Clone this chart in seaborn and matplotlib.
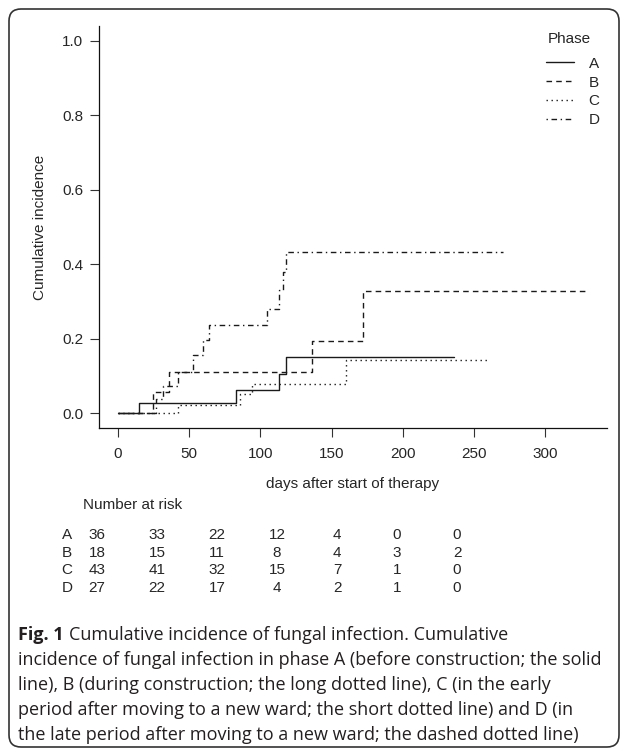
import matplotlib
matplotlib.use("Agg")
import matplotlib.pyplot as plt
from matplotlib.patches import FancyBboxPatch
from matplotlib.lines import Line2D
import seaborn as sns
import pandas as pd

# ---------------- data ----------------
phases = ["A", "B", "C", "D"]

days_A = [0, 15, 83, 113, 118, 236]
inc_A = [0.0, 0.028, 0.062, 0.104, 0.151, 0.151]

days_B = [0, 25, 36, 136, 172, 330]
inc_B = [0.0, 0.056, 0.111, 0.194, 0.329, 0.329]

days_C = [0, 42, 86, 94, 160, 259]
inc_C = [0.0, 0.023, 0.051, 0.078, 0.143, 0.143]

days_D = [0, 27, 32, 42, 53, 60, 64, 105, 113, 116, 118, 270]
inc_D = [0.0, 0.037, 0.074, 0.111, 0.156, 0.196, 0.237, 0.281, 0.331, 0.378, 0.432, 0.432]

risk_times = [0, 50, 100, 150, 200, 250, 300]
risk_A = [36, 33, 22, 12, 4, 0, 0]
risk_B = [18, 15, 11, 8, 4, 3, 2]
risk_C = [43, 41, 32, 15, 7, 1, 0]
risk_D = [27, 22, 17, 4, 2, 1, 0]

x_ticks = [0, 50, 100, 150, 200, 250, 300]
y_ticks = [0.0, 0.2, 0.4, 0.6, 0.8, 1.0]

caption_bold = "Fig. 1"
caption_lines = [
    "Cumulative incidence of fungal infection. Cumulative",
    "incidence of fungal infection in phase A (before construction; the solid",
    "line), B (during construction; the long dotted line), C (in the early",
    "period after moving to a new ward; the short dotted line) and D (in",
    "the late period after moving to a new ward; the dashed dotted line)",
]

# ---------------- frame ----------------
rows = []
for ph, d, v in zip(phases, [days_A, days_B, days_C, days_D], [inc_A, inc_B, inc_C, inc_D]):
    for di, vi in zip(d, v):
        rows.append({"day": di, "incidence": vi, "Phase": ph})
df = pd.DataFrame(rows)

sns.set_style("ticks")
plt.rcParams["font.family"] = ["Liberation Sans", "DejaVu Sans"]

W, H, DPI = 625, 749, 100
fig = plt.figure(figsize=(W / DPI, H / DPI), dpi=DPI)
ax = fig.add_axes([99 / W, 1 - 428 / H, 508 / W, 402 / H])

dash_map = {"A": "", "B": (4, 3), "C": (1, 2.6), "D": (1, 2.6, 4, 2.6)}
sns.lineplot(data=df, x="day", y="incidence", style="Phase", dashes=dash_map,
             color="#1a1a1a", linewidth=1.0, drawstyle="steps-post",
             estimator=None, sort=False, legend=False, ax=ax)

ax.set_xlim(-13.2, 343.2)
ax.set_ylim(-0.04, 1.04)
ax.set_xticks(x_ticks)
ax.set_xticklabels([str(t) for t in x_ticks])
ax.set_yticks(y_ticks)
ax.set_yticklabels([f"{t:.1f}" for t in y_ticks])
fs = 11
ax.tick_params(axis="x", length=6.5, width=0.8, pad=7, labelsize=fs, color="#333333")
ax.tick_params(axis="y", length=6.5, width=0.8, pad=5, labelsize=fs, color="#333333")
for s in ["top", "right"]:
    ax.spines[s].set_visible(False)
for s in ["left", "bottom"]:
    ax.spines[s].set_linewidth(0.9)
    ax.spines[s].set_color("#111111")
ax.set_xlabel("")
ax.set_ylabel("")

# axis titles
fig.text(353 / W, 1 - 484 / H, "days after start of therapy", ha="center", va="center", fontsize=fs)
fig.text(40 / W, 1 - 227 / H, "Cumulative incidence", ha="center", va="center",
         rotation=90, fontsize=fs)

# legend
fig.text(569 / W, 1 - 39 / H, "Phase", ha="center", va="center", fontsize=fs)
handles = [Line2D([0], [0], color="#1a1a1a", lw=1.0,
                  linestyle=("-" if dash_map[p] == "" else (0, dash_map[p]))) for p in phases]
leg = ax.legend(handles, phases, loc="upper left",
                bbox_to_anchor=((535 - 99) / 508, (428 - 46) / 402),
                frameon=False, fontsize=fs, labelspacing=0.32,
                handlelength=1.85, handletextpad=0.95, borderpad=0.2)

# number at risk table
fig.text(83 / W, 1 - 505 / H, "Number at risk", ha="left", va="center", fontsize=fs)
row_y = [535, 553, 570, 588]
col_x = [97 + 60 * i for i in range(len(risk_times))]
for ph, vals, yy in zip(phases, [risk_A, risk_B, risk_C, risk_D], row_y):
    fig.text(67 / W, 1 - yy / H, ph, ha="center", va="center", fontsize=fs)
    for xx, v in zip(col_x, vals):
        fig.text(xx / W, 1 - yy / H, str(v), ha="center", va="center", fontsize=fs)

# caption
cap_font = ["Open Sans", "DejaVu Sans"]
cap_color = "#231f20"
cap_fs = 13.0
line_y = [635, 660, 685, 710, 735]
fig.canvas.draw()
renderer = fig.canvas.get_renderer()
tb = fig.text(18 / W, 1 - line_y[0] / H, caption_bold, fontsize=cap_fs, weight="bold",
              family=cap_font, color=cap_color, va="center")
bb = tb.get_window_extent(renderer=renderer)
fig.text((bb.x1 + 5) / W, 1 - line_y[0] / H, caption_lines[0], fontsize=cap_fs,
         family=cap_font, color=cap_color, va="center")
for ln, yy in zip(caption_lines[1:], line_y[1:]):
    fig.text(18 / W, 1 - yy / H, ln, fontsize=cap_fs, family=cap_font, color=cap_color, va="center")

# rounded outer frame
frame = FancyBboxPatch((9 / DPI, 2 / DPI), 610 / DPI, 738 / DPI,
                       boxstyle="round,pad=0,rounding_size=0.12",
                       transform=fig.dpi_scale_trans, facecolor="none",
                       edgecolor="#333333", linewidth=1.2)
fig.patches.append(frame)

fig.savefig("out.png", dpi=DPI)
